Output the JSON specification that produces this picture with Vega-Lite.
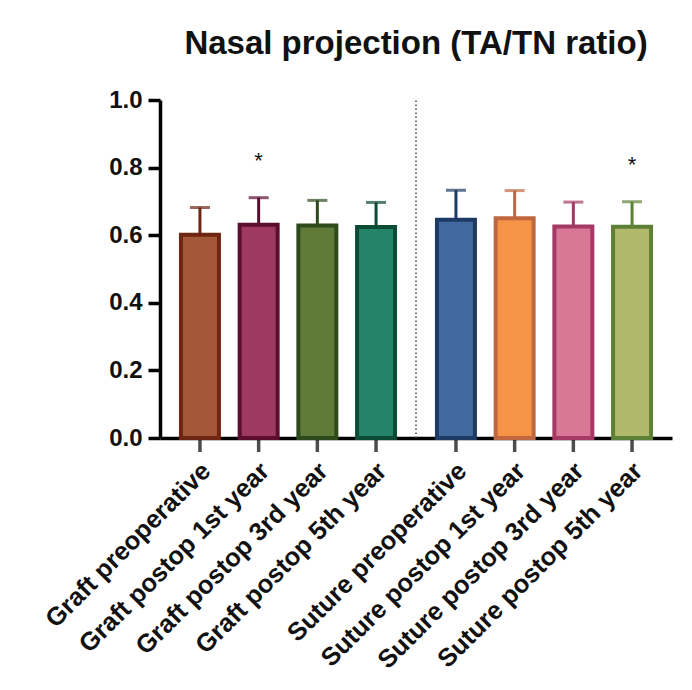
{
  "$schema": "https://vega.github.io/schema/vega-lite/v6.json",
  "width": 512,
  "height": 338,
  "autosize": {"type": "none"},
  "padding": {"left": 160, "top": 100, "right": 20, "bottom": 252},
  "background": "white",
  "title": {"text": "Nasal projection (TA/TN ratio)", "font": "Liberation Sans", "fontSize": 33, "fontWeight": "bold", "color": "#111111", "baseline": "alphabetic", "offset": 1},
  "config": {"view": {"stroke": null}, "font": "Liberation Sans"},
  "data": {
    "values": [
      {"label": "Graft preoperative", "arm": "Graft", "time": "preoperative", "mean": 0.601, "upper": 0.682, "sig": ""},
      {"label": "Graft postop 1st year", "arm": "Graft", "time": "postop 1st year", "mean": 0.631, "upper": 0.711, "sig": "*"},
      {"label": "Graft postop 3rd year", "arm": "Graft", "time": "postop 3rd year", "mean": 0.629, "upper": 0.703, "sig": ""},
      {"label": "Graft postop 5th year", "arm": "Graft", "time": "postop 5th year", "mean": 0.624, "upper": 0.697, "sig": ""},
      {"label": "Suture preoperative", "arm": "Suture", "time": "preoperative", "mean": 0.646, "upper": 0.733, "sig": ""},
      {"label": "Suture postop 1st year", "arm": "Suture", "time": "postop 1st year", "mean": 0.650, "upper": 0.732, "sig": ""},
      {"label": "Suture postop 3rd year", "arm": "Suture", "time": "postop 3rd year", "mean": 0.626, "upper": 0.698, "sig": ""},
      {"label": "Suture postop 5th year", "arm": "Suture", "time": "postop 5th year", "mean": 0.625, "upper": 0.699, "sig": "*"}
    ]
  },
  "encoding": {
    "x": {
      "field": "arm", "type": "nominal", "sort": ["Graft", "Suture"],
      "scale": {"paddingInner": 0, "paddingOuter": 0},
      "axis": {"labels": false, "ticks": false, "title": null, "domainColor": "#000000", "domainWidth": 3.5}
    }
  },
  "layer": [
    {
      "mark": {"type": "tick", "orient": "vertical", "size": 28, "thickness": 3.5, "color": "#000000"},
      "encoding": {
        "xOffset": {"field": "time", "type": "nominal", "sort": ["preoperative", "postop 1st year", "postop 3rd year", "postop 5th year"], "scale": {"paddingInner": 0.353, "paddingOuter": 0.357}},
        "y": {"datum": 0, "type": "quantitative"}
      }
    },
    {
      "mark": {"type": "bar", "strokeWidth": 4},
      "encoding": {
        "xOffset": {"field": "time", "type": "nominal", "sort": ["preoperative", "postop 1st year", "postop 3rd year", "postop 5th year"]},
        "y": {
          "field": "mean", "type": "quantitative",
          "scale": {"domain": [0, 1]},
          "axis": {"values": [0, 0.2, 0.4, 0.6, 0.8, 1], "format": ".1f", "labelFontSize": 24, "labelFontWeight": "bold", "labelColor": "#111111", "tickSize": 12, "tickWidth": 3.5, "tickColor": "#000000", "domainColor": "#000000", "domainWidth": 3.5, "grid": false, "title": null, "labelPadding": 6}
        },
        "color": {
          "field": "label", "type": "nominal", "legend": null,
          "scale": {
            "domain": ["Graft preoperative", "Graft postop 1st year", "Graft postop 3rd year", "Graft postop 5th year", "Suture preoperative", "Suture postop 1st year", "Suture postop 3rd year", "Suture postop 5th year"],
            "range": ["#A5573A", "#9E3A62", "#5F7B37", "#248469", "#4169A0", "#F69346", "#D87896", "#B0B86C"]
          }
        },
        "stroke": {
          "field": "label", "type": "nominal", "legend": null,
          "scale": {
            "domain": ["Graft preoperative", "Graft postop 1st year", "Graft postop 3rd year", "Graft postop 5th year", "Suture preoperative", "Suture postop 1st year", "Suture postop 3rd year", "Suture postop 5th year"],
            "range": ["#6E2512", "#5C0E30", "#2E4A1C", "#0B4A33", "#1C3A63", "#C0673F", "#A43A63", "#5E8036"]
          }
        }
      }
    },
    {
      "mark": {"type": "rule", "strokeWidth": 3},
      "encoding": {
        "xOffset": {"field": "time", "type": "nominal", "sort": ["preoperative", "postop 1st year", "postop 3rd year", "postop 5th year"]},
        "y": {"field": "mean", "type": "quantitative"},
        "y2": {"field": "upper"},
        "stroke": {"field": "label", "type": "nominal", "legend": null}
      }
    },
    {
      "mark": {"type": "tick", "size": 20, "thickness": 3},
      "encoding": {
        "xOffset": {"field": "time", "type": "nominal", "sort": ["preoperative", "postop 1st year", "postop 3rd year", "postop 5th year"]},
        "y": {"field": "upper", "type": "quantitative"},
        "fill": {
          "field": "label", "type": "nominal", "legend": null,
          "scale": {
            "domain": ["Graft preoperative", "Graft postop 1st year", "Graft postop 3rd year", "Graft postop 5th year", "Suture preoperative", "Suture postop 1st year", "Suture postop 3rd year", "Suture postop 5th year"],
            "range": ["#6E2512", "#5C0E30", "#2E4A1C", "#0B4A33", "#1C3A63", "#C0673F", "#A43A63", "#5E8036"]
          }
        }
      }
    },
    {
      "transform": [{"filter": "datum.sig == '*'"}],
      "mark": {"type": "text", "fontSize": 22, "baseline": "middle", "dy": -37, "color": "#111111"},
      "encoding": {
        "xOffset": {"field": "time", "type": "nominal", "sort": ["preoperative", "postop 1st year", "postop 3rd year", "postop 5th year"]},
        "y": {"field": "upper", "type": "quantitative"},
        "text": {"field": "sig"}
      }
    },
    {
      "mark": {"type": "text", "angle": 315, "align": "right", "baseline": "middle", "fontSize": 25.5, "fontWeight": "bold", "color": "#111111", "dx": -16, "dy": 25},
      "encoding": {
        "xOffset": {"field": "time", "type": "nominal", "sort": ["preoperative", "postop 1st year", "postop 3rd year", "postop 5th year"]},
        "y": {"datum": 0, "type": "quantitative"},
        "text": {"field": "label"}
      }
    },
    {
      "data": {"values": [{"divider": "Graft | Suture"}]},
      "mark": {"type": "rule", "strokeDash": [1.5, 2.5], "strokeWidth": 1.5, "color": "#444444"},
      "encoding": {
        "x": {"datum": "Suture", "bandPosition": 0},
        "y": {"datum": 0, "type": "quantitative"},
        "y2": {"datum": 1}
      }
    }
  ]
}
